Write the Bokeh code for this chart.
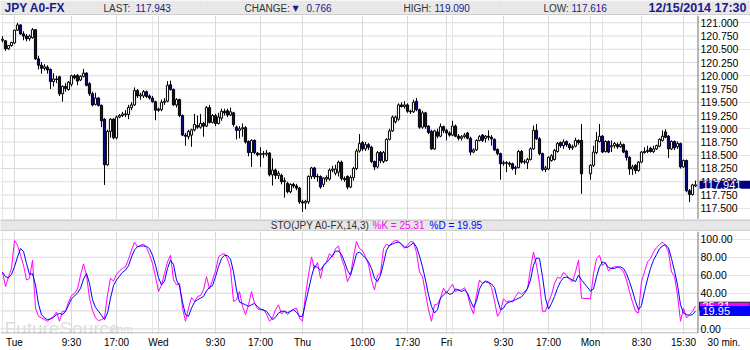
import math
from bokeh.plotting import figure
from bokeh.layouts import column
from bokeh.models import (Range1d, LinearAxis, FixedTicker, Grid, Label, ColumnDataSource)
from bokeh.core.properties import value
from bokeh.embed import file_html
from bokeh.resources import INLINE

nan = float("nan")

# ---------------- header values ----------------
symbol = "JPY A0-FX"
last_price = 117.943
change = 0.766
day_high = 119.090
day_low = 117.616
stamp = "12/15/2014 17:30"
box_price = 117.941
k_last = 25.31
d_last = 19.95
interval = "30 min."

# ---------------- 30-minute OHLC bars ----------------
opens = [120.67,120.66,120.51,120.57,120.62,120.86,120.96,120.79,120.75,120.70,
120.72,120.87,120.32,120.20,120.14,120.16,120.12,119.89,119.94,119.98,
119.66,119.80,119.74,119.84,120.00,120.01,119.92,119.99,120.05,119.85,
119.66,119.46,119.58,119.44,119.18,118.32,118.95,119.18,118.83,119.22,
119.25,119.28,119.27,119.40,119.45,119.72,119.62,119.62,119.70,119.62,
119.58,119.51,119.37,119.36,119.50,119.52,119.83,119.74,119.45,119.55,
119.25,118.88,118.85,118.88,118.98,119.06,119.03,119.10,119.05,119.40,
119.12,119.25,119.10,119.20,119.33,119.34,119.26,119.30,119.03,118.97,
119.00,119.02,118.76,118.55,118.78,118.54,118.51,118.53,118.52,118.54,
118.13,118.22,118.12,118.12,118.00,117.97,117.81,117.95,117.92,117.88,
117.62,117.60,117.62,118.10,118.26,118.09,118.10,117.95,118.05,118.05,
118.22,118.16,118.18,118.37,118.06,118.10,117.90,118.08,118.25,118.58,
118.74,118.62,118.70,118.65,118.38,118.28,118.55,118.38,118.40,118.80,
118.96,119.13,119.18,119.45,119.42,119.45,119.33,119.32,119.52,119.36,
119.03,119.30,119.05,118.95,118.62,118.94,118.86,119.04,118.97,118.92,
118.88,119.05,118.86,118.82,118.85,118.92,118.82,118.56,118.60,118.78,
118.88,118.82,118.86,118.84,118.80,118.61,118.53,118.34,118.36,118.35,
118.34,118.25,118.27,118.57,118.37,118.36,118.42,118.62,118.97,118.81,
118.53,118.23,118.24,118.40,118.42,118.57,118.74,118.68,118.76,118.70,
118.64,118.67,118.78,118.78,nan,nan,118.15,118.31,118.55,118.76,
118.86,118.57,118.76,118.66,118.68,118.70,118.66,118.70,118.58,118.46,
118.24,118.31,118.21,118.37,118.55,118.57,118.63,118.57,118.62,118.67,
118.78,118.94,118.86,118.62,118.76,118.66,118.72,118.28,118.40,117.83,
117.76,117.92]

highs = [120.75,120.67,120.58,120.64,120.87,121.00,120.97,120.84,120.79,120.78,
120.90,120.88,120.38,120.26,120.22,120.20,120.14,120.05,120.00,120.00,
119.82,119.86,119.90,120.02,120.03,120.03,120.01,120.13,120.07,119.88,
119.70,119.68,119.60,119.46,119.20,118.98,119.20,119.20,119.25,119.28,
119.32,119.35,119.45,119.50,119.78,119.75,119.68,119.73,119.72,119.65,
119.62,119.53,119.40,119.55,119.58,119.90,119.91,119.76,119.58,119.57,
119.27,118.92,118.98,119.00,119.28,119.25,119.28,119.13,119.43,119.45,
119.28,119.28,119.30,119.38,119.38,119.38,119.40,119.32,119.06,119.05,
119.10,119.05,118.78,118.80,118.80,118.56,118.65,118.58,118.60,118.56,
118.44,118.25,118.20,118.15,118.08,118.00,117.97,117.98,117.96,117.90,
117.66,117.66,118.12,118.28,118.28,118.15,118.12,118.08,118.12,118.25,
118.30,118.32,118.40,118.40,118.10,118.12,118.12,118.28,118.62,118.90,
118.77,118.75,118.73,118.68,118.40,118.58,118.58,118.58,118.82,119.00,
119.25,119.25,119.48,119.50,119.52,119.48,119.36,119.55,119.58,119.38,
119.34,119.32,119.07,118.98,118.98,119.00,119.10,119.06,119.00,118.95,
119.15,119.08,118.90,118.88,118.92,118.94,118.85,118.63,118.80,118.88,
118.90,118.88,118.97,118.88,118.82,118.63,118.55,118.40,118.39,118.38,
118.36,118.30,118.60,118.60,118.42,118.45,118.65,119.06,119.09,118.84,
118.55,118.30,118.48,118.52,118.62,118.75,118.76,118.80,118.78,118.73,
118.70,118.83,118.80,119.09,nan,nan,118.33,118.68,118.94,119.09,
118.88,118.78,118.78,118.78,118.75,118.74,118.76,118.72,118.60,118.48,
118.32,118.33,118.39,118.58,118.65,118.68,118.66,118.68,118.70,118.82,
118.97,118.99,118.88,118.78,118.78,118.76,118.74,118.42,118.42,117.86,
117.96,118.02]

lows = [120.63,120.47,120.49,120.55,120.60,120.85,120.77,120.67,120.65,120.66,
120.70,120.30,120.12,120.04,120.10,120.04,119.75,119.80,119.86,119.62,
119.51,119.70,119.72,119.80,119.93,119.82,119.90,119.97,119.80,119.62,
119.42,119.44,119.42,119.03,117.94,118.30,118.83,118.80,118.80,119.20,
119.22,119.22,119.18,119.35,119.43,119.58,119.55,119.58,119.58,119.55,
119.49,119.16,119.32,119.33,119.45,119.50,119.72,119.43,119.40,119.22,
118.86,118.68,118.80,118.66,118.95,119.00,119.00,118.85,119.03,119.10,
119.10,119.05,119.08,119.15,119.25,119.22,119.24,119.04,118.80,118.82,
118.85,118.72,118.48,118.28,118.52,118.48,118.28,118.45,118.48,118.10,
117.93,118.05,118.05,117.95,117.70,117.78,117.78,117.88,117.84,117.58,
117.43,117.48,117.58,118.05,118.05,118.00,117.87,117.90,118.00,118.02,
118.18,118.12,118.10,118.02,118.00,117.86,117.88,118.02,118.22,118.55,
118.58,118.58,118.60,118.35,118.22,118.25,118.35,118.35,118.38,118.78,
118.94,119.10,119.15,119.40,119.38,119.30,119.28,119.30,119.33,119.00,
119.00,119.00,118.90,118.60,118.60,118.82,118.84,118.92,118.78,118.85,
118.86,118.84,118.78,118.78,118.82,118.80,118.50,118.54,118.58,118.76,
118.75,118.74,118.78,118.68,118.58,118.50,118.04,118.30,118.18,118.28,
118.22,118.13,118.25,118.34,118.33,118.24,118.40,118.60,118.79,118.50,
118.20,118.18,118.22,118.38,118.40,118.55,118.64,118.62,118.66,118.60,
118.60,118.65,118.70,117.77,nan,nan,118.04,118.28,118.52,118.74,
118.54,118.55,118.54,118.56,118.63,118.62,118.64,118.54,118.40,118.13,
118.13,118.15,118.19,118.35,118.53,118.54,118.55,118.54,118.60,118.65,
118.76,118.82,118.45,118.60,118.60,118.62,118.25,118.26,117.80,117.616,
117.74,117.90]

closes = [120.69,120.51,120.57,120.63,120.86,120.96,120.79,120.75,120.70,120.75,
120.87,120.32,120.20,120.14,120.17,120.11,119.89,119.94,119.93,119.66,
119.80,119.76,119.88,120.00,119.96,119.90,119.99,120.05,119.82,119.66,
119.45,119.58,119.44,119.15,118.32,118.95,119.18,118.83,119.22,119.25,
119.28,119.27,119.40,119.45,119.72,119.62,119.64,119.70,119.61,119.58,
119.51,119.35,119.35,119.50,119.52,119.82,119.74,119.45,119.55,119.25,
118.88,118.86,118.95,118.98,119.08,119.03,119.10,119.05,119.40,119.12,
119.25,119.10,119.22,119.33,119.30,119.26,119.32,119.08,118.97,119.00,
119.02,118.75,118.55,118.78,118.55,118.51,118.53,118.52,118.54,118.13,
118.22,118.12,118.16,118.00,118.02,117.81,117.95,117.92,117.88,117.62,
117.60,117.63,118.10,118.26,118.09,118.10,117.90,118.07,118.08,118.22,
118.24,118.24,118.37,118.06,118.04,117.90,118.08,118.25,118.58,118.72,
118.62,118.70,118.65,118.38,118.28,118.55,118.40,118.55,118.80,118.96,
119.22,119.22,119.45,119.42,119.45,119.33,119.32,119.50,119.36,119.03,
119.30,119.04,118.93,118.62,118.96,118.86,119.04,118.97,118.92,118.88,
119.05,118.86,118.82,118.85,118.88,118.82,118.56,118.60,118.78,118.85,
118.78,118.86,118.84,118.81,118.60,118.53,118.34,118.36,118.35,118.33,
118.25,118.27,118.57,118.37,118.38,118.42,118.62,118.97,118.81,118.53,
118.23,118.26,118.46,118.49,118.59,118.72,118.68,118.75,118.70,118.64,
118.66,118.78,118.74,118.15,nan,nan,118.31,118.56,118.78,118.86,
118.56,118.76,118.56,118.68,118.72,118.66,118.71,118.56,118.46,118.24,
118.28,118.21,118.37,118.56,118.57,118.59,118.57,118.62,118.68,118.80,
118.86,118.84,118.62,118.76,118.64,118.72,118.28,118.40,117.83,117.76,
117.94,117.941]

# ---------------- stochastic (14,3) ----------------
k_vals = [63.8,47.2,58.3,67.5,98.9,93.4,82.3,71.2,54.6,56.5,
76.8,23.2,14.0,12.2,10.3,8.5,11.4,14.0,18.8,8.5,
19.6,19.6,29.9,37.3,39.5,44.6,60.1,72.7,60.1,34.3,
20.7,12.2,9.2,10.3,12.2,38.0,56.5,53.5,60.9,64.9,
67.5,69.4,77.9,87.8,97.0,91.5,93.4,94.8,90.4,83.0,
73.1,58.3,41.7,49.1,62.0,74.9,82.3,54.6,49.1,50.9,
23.2,8.5,23.2,35.1,30.6,36.2,37.3,43.5,58.3,44.6,
54.6,64.6,80.4,83.0,84.1,77.9,67.5,30.6,32.5,41.7,
25.1,15.9,26.9,41.7,28.8,22.5,21.4,21.4,16.6,8.5,
12.2,21.4,26.9,16.6,19.6,15.9,19.6,21.8,23.2,12.2,
8.5,38.0,60.1,80.4,67.5,74.2,56.5,71.2,74.9,84.1,
80.4,89.7,92.6,78.6,69.4,52.8,60.1,80.4,97.8,89.7,
87.5,80.4,72.0,54.6,43.5,60.1,62.0,89.7,94.8,92.6,
97.0,98.9,98.2,94.1,90.0,93.4,97.8,97.0,85.2,63.8,
58.3,39.9,21.4,8.5,26.9,27.7,34.3,45.4,39.9,45.4,
49.8,41.7,43.5,43.5,46.1,38.7,25.1,16.6,38.0,54.6,
50.9,53.5,52.8,46.1,31.4,14.0,19.6,33.6,29.9,31.4,
29.9,36.2,41.0,38.7,41.7,44.6,67.5,86.0,71.2,50.9,
19.6,19.6,29.9,38.0,50.9,57.6,56.5,63.1,60.1,55.4,
52.8,63.8,76.8,34.3,nan,nan,33.6,62.0,78.6,82.3,
70.5,74.2,64.6,68.3,69.4,69.4,67.5,63.8,54.6,41.7,
29.9,19.6,17.7,52.8,63.8,74.9,78.6,86.0,90.8,94.1,
97.0,93.4,86.0,63.8,58.3,38.0,8.5,23.2,12.2,15.9,
19.6,25.31]

d_vals = [63.1,58.3,57.2,60.9,69.4,80.4,89.7,86.7,73.1,60.9,
61.6,49.1,27.7,15.9,12.2,10.3,11.1,12.9,15.9,17.3,
15.9,19.6,26.2,33.6,36.9,39.9,45.4,55.7,62.0,50.9,
32.5,24.0,19.6,15.1,10.3,17.7,34.3,48.3,54.6,59.0,
63.1,65.7,70.5,80.4,88.2,91.9,92.6,92.6,92.3,89.7,
82.3,71.2,57.2,49.1,53.5,67.5,76.8,72.0,54.6,48.0,
29.9,15.9,14.0,23.2,29.9,32.5,34.3,36.2,42.4,46.5,
48.3,58.3,69.4,78.6,82.3,81.9,77.9,63.8,43.5,29.9,
28.4,26.9,25.1,26.9,28.4,25.1,22.1,21.0,19.6,15.1,
10.3,12.9,17.7,19.6,19.6,18.1,19.6,21.4,18.5,14.0,
14.0,28.8,43.5,58.3,70.5,68.6,65.7,70.5,74.2,77.9,
82.3,86.7,87.1,83.0,74.9,65.3,60.1,71.2,84.1,86.0,
82.3,79.3,74.9,67.5,56.5,52.8,60.1,73.1,87.8,93.4,
94.8,96.3,97.0,94.8,91.5,91.1,93.4,96.3,91.5,81.5,
69.4,54.6,38.0,25.1,17.7,21.4,34.3,38.0,41.0,38.7,
39.5,44.6,43.5,41.7,43.5,39.9,31.4,24.0,31.4,44.6,
50.9,52.8,51.7,50.2,46.1,32.5,21.4,23.2,28.4,29.9,
31.4,32.5,34.3,35.8,39.5,45.4,54.6,71.2,79.3,78.6,
58.3,34.3,22.1,28.4,36.2,45.4,52.8,57.2,57.9,56.5,
54.6,52.8,60.1,54.6,nan,nan,42.4,44.6,58.3,69.4,
74.9,73.1,68.6,67.5,67.5,69.0,69.4,67.5,61.6,52.8,
42.4,30.6,21.4,26.2,41.7,55.7,67.5,76.8,83.0,89.7,
92.6,94.1,90.4,78.6,64.6,49.1,26.9,17.7,15.9,15.1,
15.9,19.95]

# ---------------- axes ----------------
tick_slots = [4, 23, 38, 52, 71, 86, 100, 120, 135, 148, 167, 182, 196, 213, 227]
tick_labels = ["Tue", "9:30", "17:00", "Wed", "9:30", "17:00", "Thu", "10:00",
               "17:30", "Fri", "9:30", "17:00", "Mon", "8:30", "15:30"]
price_ticks = [117.5, 117.75, 118.0, 118.25, 118.5, 118.75, 119.0, 119.25,
               119.5, 119.75, 120.0, 120.25, 120.5, 120.75, 121.0]
sto_ticks = [0, 20, 40, 60, 80, 100]

FONT = "Liberation Sans"
NAVY = "#1a1a8c"
GRID = "#d9d9d9"
W = 750

bars = list(range(len(closes)))
X0 = -0.667            # left edge of the plot area (slot units)
XE = 231.667           # right edge of the plot area, where the price scale starts
XA = 231.833           # price-scale axis line
XL = 232.667           # price-scale labels
XLAB = 240.5           # position of the interval caption under the price scale
xr = Range1d(X0, 249.333)


def bar_fig(h, fill):
    f = figure(width=W, height=h, x_range=Range1d(0, W), y_range=Range1d(h, 0),
               output_backend="svg", toolbar_location=None, min_border=0,
               x_axis_location=None, y_axis_location=None)
    f.outline_line_color = None
    f.background_fill_color = fill
    f.border_fill_color = fill
    return f


def htext(f, x, y, t, color, size="10px", style="normal", align="left", font=FONT):
    f.text(x=[x], y=[y], text=[t], text_color=color, text_font=value(font),
           text_font_size=size, text_font_style=style, text_align=align,
           text_baseline="middle")


def scale_labels(f, ticks, fmt, y0, y1):
    f.segment(x0=[XA], y0=[y0], x1=[XA], y1=[y1], line_color="#707070", line_width=1)
    f.segment(x0=[X0] * len(ticks), y0=ticks, x1=[XE] * len(ticks), y1=ticks,
              line_color=GRID, line_width=1, level="underlay")
    f.text(x=[XL] * len(ticks), y=ticks, text=[fmt.format(t) for t in ticks],
           text_font=value(FONT), text_font_size="10.5px", text_color="#000000",
           text_align="left", text_baseline="middle")


# ---------- header bar ----------
hdr = bar_fig(15, "#ebebeb")
hdr.segment(x0=[0], y0=[14.5], x1=[W], y1=[14.5], line_color="#b4b4b4", line_width=1)
htext(hdr, 4, 7.5, symbol, NAVY, size="12px", style="bold")
htext(hdr, 103, 7.5, "LAST:", "#333333")
htext(hdr, 135, 7.5, f"{last_price:.3f}", NAVY)
htext(hdr, 244, 7.5, "CHANGE:", "#333333")
htext(hdr, 292, 7.5, "\u25BC", NAVY, size="8px", font="DejaVu Sans")
htext(hdr, 306, 7.5, f"{change:.3f}", NAVY)
htext(hdr, 403, 7.5, "HIGH:", "#333333")
htext(hdr, 434, 7.5, f"{day_high:.3f}", NAVY)
htext(hdr, 543, 7.5, "LOW:", "#333333")
htext(hdr, 571, 7.5, f"{day_low:.3f}", NAVY)
htext(hdr, 746, 7.5, stamp, NAVY, size="12.5px", style="bold", align="right")

# ---------- price panel ----------
PY0, PY1 = 117.287, 121.138
p = figure(width=W, height=204, x_range=xr, y_range=Range1d(PY0, PY1),
           output_backend="svg", toolbar_location=None,
           x_axis_location=None, y_axis_location=None, min_border=0)
p.outline_line_color = None
p.add_layout(Grid(dimension=0, ticker=FixedTicker(ticks=tick_slots), grid_line_color=GRID))
scale_labels(p, price_ticks, "{:.3f}", PY0, PY1)

fills, tops, bots = [], [], []
for o, c in zip(opens, closes):
    if math.isnan(o):
        fills.append("white"); tops.append(nan); bots.append(nan)
    else:
        fills.append("#0a0a80" if c < o else "white")
        tops.append(max(o, c)); bots.append(min(o, c))

src = ColumnDataSource(dict(x=bars, o=opens, h=highs, l=lows, c=closes,
                            top=tops, bot=bots, fill=fills))
p.segment(x0="x", y0="l", x1="x", y1="h", source=src, line_color="black", line_width=1)
p.vbar(x="x", width=0.72, top="top", bottom="bot", source=src,
       fill_color="fill", line_color="black", line_width=1)

p.add_layout(Label(x=699, y=box_price, x_units="screen", y_units="data",
                   text=f"{box_price:.3f}", text_color="white", text_font=FONT,
                   text_font_size="11px", text_baseline="middle", text_align="left",
                   background_fill_color="#000080",
                   padding=dict(left=3, right=10, top=0, bottom=0)))

# ---------- STO header ----------
sh = bar_fig(12, "#e8e8e8")
sh.segment(x0=[0, 0], y0=[0.5, 11.5], x1=[W, W], y1=[0.5, 11.5],
           line_color="#b4b4b4", line_width=1)
htext(sh, 369, 6.2, "STO(JPY A0-FX,14,3)", "#333333", align="right")
htext(sh, 372, 6.2, f"%K = {k_last:.2f}", "#ff00ff")
htext(sh, 429, 6.2, f"%D = {d_last:.2f}", "#0000ff")

# ---------- stochastic panel ----------
SY0, SY1 = -5.2, 108.86
SB = -4.65   # bottom border line of the indicator pane
s = figure(width=W, height=119, x_range=xr, y_range=Range1d(SY0, SY1),
           output_backend="svg", toolbar_location=None,
           x_axis_location=None, y_axis_location=None,
           min_border_left=0, min_border_right=0, min_border_top=0, min_border_bottom=16)
s.outline_line_color = None

xax = LinearAxis(ticker=FixedTicker(ticks=tick_slots + [XLAB]),
                 major_label_overrides={**{t: lab for t, lab in zip(tick_slots, tick_labels)},
                                        XLAB: interval})
xax.axis_line_color = None
xax.major_tick_line_color = None
xax.minor_tick_line_color = None
xax.major_tick_out = 0
xax.major_tick_in = 0
xax.major_label_standoff = 3
xax.major_label_text_font = FONT
xax.major_label_text_font_size = "10px"
xax.major_label_text_color = "#000000"
s.add_layout(xax, "below")
s.add_layout(Grid(dimension=0, ticker=FixedTicker(ticks=tick_slots), grid_line_color=GRID))
s.segment(x0=[X0], y0=[SB], x1=[XA], y1=[SB], line_color="#a0a0a0", line_width=1)
scale_labels(s, sto_ticks, "{:.2f}", SB, SY1)

s.add_layout(Label(x=4, y=0, x_units="screen", y_units="data", text="FutureSource",
                   text_color="#dedede", text_font=FONT, text_font_size="19px",
                   text_baseline="alphabetic", level="underlay"))
s.add_layout(Label(x=108, y=0, x_units="screen", y_units="data", text=".com",
                   text_color="#dedede", text_font=FONT, text_font_size="11px",
                   text_baseline="alphabetic", level="underlay"))

kx = [b for b, v in zip(bars, k_vals) if not math.isnan(v)]
ky = [v for v in k_vals if not math.isnan(v)]
dx = [b for b, v in zip(bars, d_vals) if not math.isnan(v)]
dy = [v for v in d_vals if not math.isnan(v)]
s.line(kx, ky, line_color="#ff00ff", line_width=1)
s.line(dx, dy, line_color="#0000ff", line_width=1)

s.add_layout(Label(x=699, y=k_last, x_units="screen", y_units="data",
                   text=f"{k_last:.2f}", text_color="white", text_font=FONT,
                   text_font_size="11px", text_baseline="middle", text_align="left",
                   background_fill_color="#ff00ff", border_line_color="#222222",
                   padding=dict(left=3, right=20, top=0, bottom=0)))
s.add_layout(Label(x=699, y=d_last, x_units="screen", y_units="data",
                   text=f"{d_last:.2f}", text_color="white", text_font=FONT,
                   text_font_size="11px", text_baseline="middle", text_align="left",
                   background_fill_color="#0000ff",
                   padding=dict(left=3, right=20, top=1, bottom=1)))

layout = column(hdr, p, sh, s, spacing=0)
open("out.html", "w").write(file_html(layout, INLINE))
